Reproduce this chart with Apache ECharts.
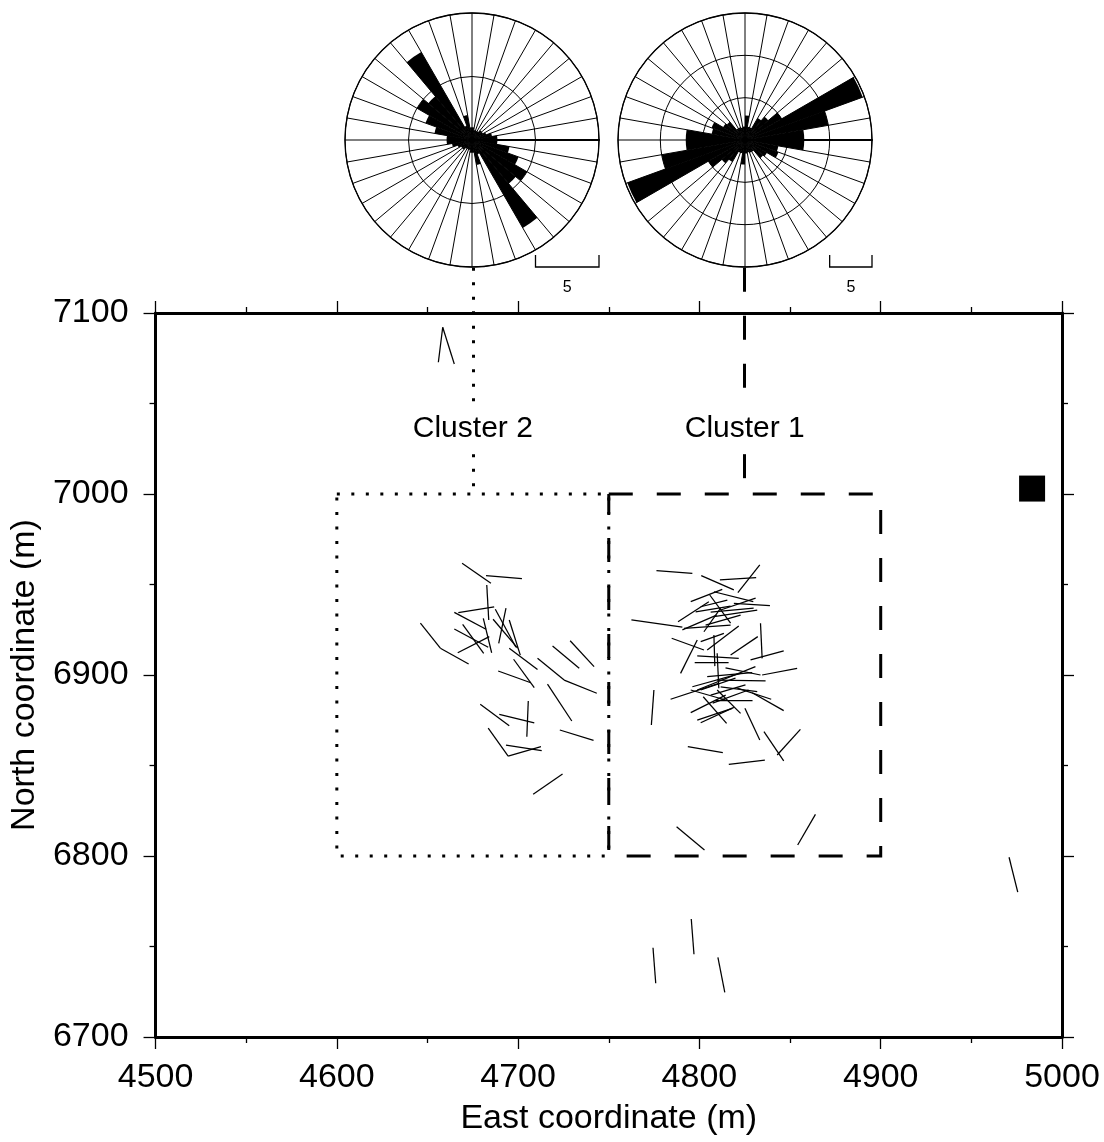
<!DOCTYPE html>
<html><head><meta charset="utf-8">
<script src="https://cdn.jsdelivr.net/npm/echarts@6/dist/echarts.min.js"></script>
<style>html,body{margin:0;padding:0;background:#fff}#c{width:1104px;height:1142px}</style>
</head><body><div id="c"></div>
<script>
const FONT = '"Liberation Sans", Arial, Helvetica, sans-serif';

// ---- axes ----
const xTicks = [4500, 4600, 4700, 4800, 4900, 5000];
const yTicks = [6700, 6800, 6900, 7000, 7100];

// ---- rose diagrams: 36 bins of 10 degrees (azimuth from north, clockwise) ----
const roseBins = ['0','10','20','30','40','50','60','70','80','90','100','110','120','130','140','150','160','170',
                  '180','190','200','210','220','230','240','250','260','270','280','290','300','310','320','330','340','350'];
// Cluster 2 (left rose), max radius 10
const roseCluster2 = [1.0,0.8,0.8,0.8,1.0,1.0,1.2,1.6,2.0,2.0,3.0,3.9,5.0,4.5,8.0,1.2,2.0,1.0,
                      1.0,0.8,0.8,0.8,1.0,1.0,1.2,1.6,2.0,2.0,3.0,3.9,5.0,4.5,8.0,1.2,2.0,1.0];
// Cluster 1 (right rose), max radius 15
const roseCluster1 = [2.9,1.6,1.6,3.0,3.6,5.0,14.8,10.0,7.0,7.0,4.0,4.2,3.0,2.8,1.6,1.6,1.5,1.6,
                      2.9,1.6,1.6,3.0,3.6,5.0,14.8,10.0,7.0,7.0,4.0,4.2,3.0,2.8,1.6,1.6,1.5,1.6];
const roseMax = [10, 15];
const roseScale = 5;

// ---- fault segments [east1, north1, east2, north2] in metres ----
const cluster2Segments = [
 [4669.1,6961.7,4685.0,6950.7],[4682.3,6954.9,4702.1,6953.2],[4682.7,6949.7,4683.8,6930.4],
 [4667.0,6934.4,4686.8,6937.7],[4664.8,6934.6,4682.3,6925.3],[4669.4,6928.0,4681.0,6912.0],
 [4664.8,6925.4,4683.5,6915.3],[4666.7,6912.3,4684.1,6921.2],[4680.8,6931.3,4685.4,6912.3],
 [4687.4,6936.3,4698.8,6915.3],[4693.3,6936.9,4689.3,6917.5],[4686.2,6930.8,4699.7,6914.8],
 [4695.1,6930.4,4701.2,6911.0],[4646.1,6928.6,4657.1,6914.8],[4657.1,6914.8,4672.7,6906.1],
 [4695.1,6914.8,4710.7,6903.1],[4719.0,6916.0,4733.7,6903.7],[4728.7,6918.9,4741.9,6904.6],
 [4710.7,6909.2,4725.4,6897.2],[4725.4,6897.2,4743.4,6889.9],[4689.0,6902.2,4707.0,6895.7],
 [4697.5,6908.7,4708.9,6893.0],[4716.2,6895.0,4729.6,6874.6],[4679.1,6883.8,4695.1,6872.0],
 [4689.6,6878.3,4708.9,6873.5],[4705.6,6885.6,4704.8,6865.9],[4723.0,6869.6,4741.6,6863.9],
 [4683.5,6870.6,4694.5,6855.2],[4694.5,6855.2,4712.6,6860.4],[4693.3,6861.3,4713.0,6858.2],
 [4708.3,6834.1,4724.5,6845.3]
];
const cluster1Segments = [
 [4776.3,6957.6,4796.1,6956.2],[4801.0,6954.9,4819.0,6947.0],[4811.3,6952.5,4831.3,6953.8],
 [4833.3,6960.8,4821.2,6945.5],[4795.2,6940.5,4812.6,6947.3],[4808.0,6946.0,4829.7,6940.5],
 [4819.0,6939.6,4838.9,6938.3],[4788.2,6929.4,4805.2,6940.5],[4805.7,6944.2,4817.2,6928.6],
 [4797.9,6934.9,4817.2,6938.1],[4800.7,6937.7,4815.4,6941.4],[4806.2,6934.8,4829.9,6937.0],
 [4790.6,6924.9,4809.5,6933.1],[4802.5,6923.9,4811.7,6936.9],[4808.0,6932.2,4831.9,6935.9],
 [4762.5,6930.4,4790.6,6926.4],[4791.5,6925.8,4817.2,6927.6],[4784.7,6920.3,4802.5,6913.8],
 [4798.8,6919.3,4789.6,6900.9],[4800.7,6918.4,4813.5,6923.0],[4804.3,6913.8,4821.7,6927.1],
 [4808.0,6922.1,4808.5,6904.9],[4809.8,6912.0,4810.7,6892.7],[4817.2,6911.0,4832.2,6921.2],
 [4833.7,6928.6,4834.6,6909.2],[4797.4,6906.8,4816.1,6907.0],[4798.8,6910.5,4821.7,6909.2],
 [4828.2,6908.3,4846.5,6913.3],[4834.6,6900.0,4853.9,6903.7],[4804.3,6899.1,4829.1,6901.3],
 [4796.1,6893.5,4822.7,6900.9],[4784.1,6886.6,4810.7,6895.4],[4809.8,6897.2,4836.5,6896.7],
 [4798.8,6891.7,4830.9,6904.6],[4811.7,6893.5,4831.9,6890.8],[4820.9,6892.7,4839.6,6886.6],
 [4829.1,6890.2,4846.5,6880.3],[4795.2,6879.2,4814.5,6888.9],[4798.8,6875.1,4818.1,6881.6],
 [4800.7,6873.6,4819.0,6882.1],[4802.1,6888.0,4815.0,6873.3],[4809.8,6891.7,4822.7,6878.8],
 [4773.5,6872.4,4774.9,6891.7],[4825.1,6881.6,4833.3,6864.1],[4835.6,6868.7,4846.5,6852.6],
 [4842.9,6855.8,4855.7,6870.0],[4793.6,6860.4,4812.9,6857.1],[4816.2,6850.6,4836.1,6853.0],
 [4806.2,6888.9,4825.4,6894.5],[4808.9,6886.2,4829.3,6886.2],[4800.7,6891.7,4819.9,6898.3],
 [4807.3,6884.5,4827.1,6891.7],[4795.2,6891.7,4814.5,6886.2],[4811.7,6935.9,4831.0,6942.5],
 [4803.4,6927.6,4822.7,6933.1],[4814.4,6903.9,4833.7,6900.0]
];
const otherSegments = [
 [4658.4,7092.1,4656.0,7072.8],[4658.4,7092.1,4664.8,7071.8],
 [4787.4,6816.2,4802.8,6803.3],[4864.0,6823.0,4854.2,6806.1],
 [4774.4,6749.3,4775.9,6729.7],[4795.5,6765.2,4797.0,6745.7],
 [4810.2,6744.0,4814.0,6724.7],[4970.8,6799.3,4975.6,6780.0]
];

// ---- cluster boxes [eastMin, eastMax, northMin, northMax] ----
const cluster2Box = [4600, 4750, 6800, 7000];
const cluster1Box = [4750, 4900, 6800, 7000];
const clusterCentreEast = [4675, 4825];
const clusterLabels = ['Cluster 2', 'Cluster 1'];
const labelNorth = 7036;
const connectorTop = 7125;      // north value at the base of the rose diagrams
const connectorGap = [7049, 7022];
const station = [[4983.5, 7003]];

// ---- layout ----
const G = {left:154, top:313, width:908, height:724};
const R = 127;
const roseCentres = [[472, 140], [745, 140]];

function boxPath(b){ return [[b[0],b[3]],[b[1],b[3]],[b[1],b[2]],[b[0],b[2]],[b[0],b[3]]]; }
function segs(list){ return list.map(s => ({coords:[[s[0],s[1]],[s[2],s[3]]]})); }
function connector(e){ return [{coords:[[e,connectorTop],[e,connectorGap[0]]]},{coords:[[e,connectorGap[1]],[e,cluster1Box[3]]]}]; }

const axisCommon = {
  type:'value',
  axisLine:{show:true,onZero:false,lineStyle:{color:'#000',width:3}},
  axisTick:{show:true,length:12,lineStyle:{color:'#000',width:1.3}},
  minorTick:{show:true,splitNumber:2,length:6,lineStyle:{color:'#000',width:1.3}},
  splitLine:{show:false}, minorSplitLine:{show:false}
};
const labelStyle = {color:'#000',fontSize:34,fontFamily:FONT};

const chart = echarts.init(document.getElementById('c'), null, {renderer:'canvas'});

function rosePolarAxes(i){
  return {
    angle: {polarIndex:i, type:'category', data:roseBins, startAngle:90, clockwise:true, boundaryGap:true,
      axisLine:{show:true,lineStyle:{color:'#000',width:1.3}}, axisTick:{show:false},
      axisLabel:{show:false,interval:0}, splitLine:{show:true,interval:0,lineStyle:{color:'#000',width:1}}},
    radius: {polarIndex:i, type:'value', min:0, max:roseMax[i], interval:5,
      axisLine:{show:false}, axisTick:{show:false}, axisLabel:{show:false},
      splitLine:{show:true,lineStyle:{color:'#000',width:1}}}
  };
}
const p0 = rosePolarAxes(0), p1 = rosePolarAxes(1);

const option = {
  animation:false,
  backgroundColor:'#fff',
  grid:G,
  xAxis:[
    Object.assign({}, axisCommon, {position:'bottom', min:4500, max:5000, interval:100,
      axisLabel:Object.assign({margin:24, formatter: v => xTicks.includes(v) ? String(v) : ''}, labelStyle),
      name:'East coordinate (m)', nameLocation:'middle', nameGap:65, nameTextStyle:labelStyle}),
    Object.assign({}, axisCommon, {position:'top', min:4500, max:5000, interval:100, axisLabel:{show:false}})
  ],
  yAxis:[
    Object.assign({}, axisCommon, {position:'left', min:6700, max:7100, interval:100,
      axisLabel:Object.assign({margin:27, formatter: v => yTicks.includes(v) ? String(v) : ''}, labelStyle),
      name:'North coordinate (m)', nameLocation:'middle', nameGap:96, nameRotate:90, nameTextStyle:labelStyle}),
    Object.assign({}, axisCommon, {position:'right', min:6700, max:7100, interval:100, axisLabel:{show:false}})
  ],
  polar:[
    {center:roseCentres[0], radius:R},
    {center:roseCentres[1], radius:R},
    {center:roseCentres[0], radius:R},
    {center:roseCentres[1], radius:R}
  ],
  angleAxis:[p0.angle, p1.angle,
    {polarIndex:2, type:'value', min:0, max:360, startAngle:0, show:false},
    {polarIndex:3, type:'value', min:0, max:360, startAngle:0, show:false}],
  radiusAxis:[p0.radius, p1.radius,
    {polarIndex:2, type:'value', min:0, max:1, axisLine:{show:true,lineStyle:{color:'#000',width:2.2}}, axisTick:{show:false}, axisLabel:{show:false}, splitLine:{show:false}},
    {polarIndex:3, type:'value', min:0, max:1, axisLine:{show:true,lineStyle:{color:'#000',width:2.2}}, axisTick:{show:false}, axisLabel:{show:false}, splitLine:{show:false}}],
  series:[
    {type:'bar', coordinateSystem:'polar', polarIndex:0, data:roseCluster2, barCategoryGap:'0%', itemStyle:{color:'#000'}, silent:true},
    {type:'bar', coordinateSystem:'polar', polarIndex:1, data:roseCluster1, barCategoryGap:'0%', itemStyle:{color:'#000'}, silent:true},
    {type:'lines', coordinateSystem:'cartesian2d', xAxisIndex:0, yAxisIndex:0, silent:true, z:4,
      data:segs(cluster2Segments).concat(segs(cluster1Segments), segs(otherSegments)),
      lineStyle:{color:'#000', width:1.25, opacity:1}},
    {type:'lines', coordinateSystem:'cartesian2d', polyline:true, silent:true, clip:false, z:3,
      data:[{coords:boxPath(cluster2Box)}], lineStyle:{color:'#000', width:3, opacity:1, type:[3,11.5]}},
    {type:'lines', coordinateSystem:'cartesian2d', polyline:true, silent:true, clip:false, z:3,
      data:[{coords:boxPath(cluster1Box)}], lineStyle:{color:'#000', width:3, opacity:1, type:[24,24]}},
    {type:'lines', coordinateSystem:'cartesian2d', silent:true, clip:false, z:3,
      data:connector(clusterCentreEast[0]), lineStyle:{color:'#000', width:3, opacity:1, type:[3,11.5]}},
    {type:'lines', coordinateSystem:'cartesian2d', silent:true, clip:false, z:3,
      data:connector(clusterCentreEast[1]), lineStyle:{color:'#000', width:3, opacity:1, type:[24,24]}},
    {type:'scatter', symbol:'rect', symbolSize:26, data:station, itemStyle:{color:'#000', opacity:1}, silent:true, z:5},
    {type:'custom', coordinateSystem:'cartesian2d', silent:true, clip:false, z:6,
      data:clusterCentreEast.map((e,i) => [e, labelNorth, i]),
      renderItem:(params, api) => {
        const p = api.coord([api.value(0), api.value(1)]);
        return {type:'text', style:{text:clusterLabels[api.value(2)], x:p[0], y:p[1], align:'center', verticalAlign:'middle',
          font:'30px ' + FONT, fill:'#000'}};
      }}
  ]
};
chart.setOption(option);

// scale bars under each rose (length = roseScale units on each rose's radius scale)
const graphics = [];
roseCentres.forEach((c, i) => {
  const len = R * roseScale / roseMax[i];
  const x2 = c[0] + R, x1 = x2 - len, y = c[1] + R;
  graphics.push({type:'polyline', shape:{points:[[x1, y-12],[x1, y],[x2, y],[x2, y-12]]}, style:{stroke:'#000', lineWidth:1.3, fill:null}});
  graphics.push({type:'text', style:{text:String(roseScale), x:(x1+x2)/2, y:y+21, align:'center', verticalAlign:'middle', font:'16px ' + FONT, fill:'#000'}});
});
chart.setOption({graphic:graphics});
</script></body></html>
